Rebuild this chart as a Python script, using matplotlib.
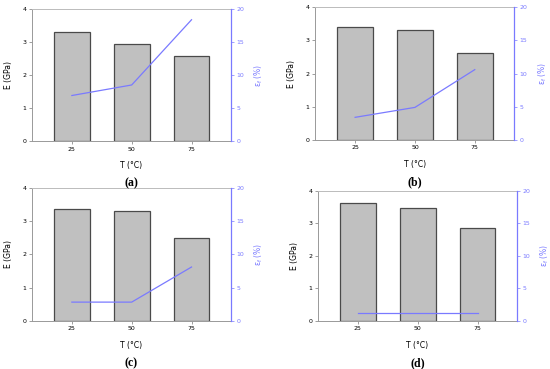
import matplotlib.pyplot as plt

# 온도 (°C)
temps = [25, 50, 75]
panel_names = ['(a)', '(b)', '(c)', '(d)']

# 탄성률 E (GPa)
E_a = [3.30, 2.95, 2.59]
E_b = [3.41, 3.33, 2.62]
E_c = [3.38, 3.31, 2.50]
E_d = [3.61, 3.46, 2.85]

# 파단 변형률 (%)
ef_a = [6.9, 8.5, 18.4]
ef_b = [3.4, 4.9, 10.6]
ef_c = [2.8, 2.8, 8.1]
ef_d = [1.2, 1.2, 1.2]

E_all = [E_a, E_b, E_c, E_d]
ef_all = [ef_a, ef_b, ef_c, ef_d]

# 축 위치 (figure 비율)
boxes = [
    [0.058, 0.618, 0.362, 0.357],
    [0.573, 0.621, 0.362, 0.359],
    [0.058, 0.131, 0.362, 0.359],
    [0.578, 0.131, 0.362, 0.352],
]

blue = '#7a7aff'
fig = plt.figure(figsize=(5.5, 3.69), dpi=100)

for i in range(4):
    ax = fig.add_axes(boxes[i])
    ax.bar(temps, E_all[i], width=15, color='#c0c0c0', edgecolor='#4a4a4a', linewidth=0.9)
    ax.set_xlim(8.3, 91.5)
    ax.set_ylim(0, 4)
    ax.set_xticks(temps)
    ax.set_yticks([0, 1, 2, 3, 4])
    ax.tick_params(labelsize=4.5, length=2, width=0.5, color='#777777', pad=2)
    for s in ['left', 'bottom']:
        ax.spines[s].set_color('#999999')
        ax.spines[s].set_linewidth(0.7)
    ax.spines['top'].set_color('#bbbbbb')
    ax.spines['top'].set_linewidth(0.7)
    ax.spines['right'].set_visible(False)
    ax.set_ylabel('E (GPa)', fontsize=5.5, labelpad=7)
    ax.set_xlabel('T (°C)', fontsize=5.5, labelpad=7)

    ax2 = ax.twinx()
    ax2.plot(temps, ef_all[i], color=blue, linewidth=0.9)
    ax2.set_ylim(0, 20)
    ax2.set_yticks([0, 5, 10, 15, 20])
    ax2.tick_params(labelsize=4.5, length=2, width=0.5, color=blue, labelcolor=blue, pad=2)
    for s in ['left', 'bottom', 'top']:
        ax2.spines[s].set_visible(False)
    ax2.spines['right'].set_color(blue)
    ax2.spines['right'].set_linewidth(0.9)
    ax2.set_ylabel('ε$_\\mathregular{f}$ (%)', fontsize=5.5, color=blue, rotation=90, labelpad=6)

    b = boxes[i]
    fig.text(b[0] + b[2] / 2, b[1] - 0.115, panel_names[i], ha='center', va='center',
             fontsize=8.5, fontweight='bold', family='Liberation Serif')

plt.savefig('out.png', dpi=100)
